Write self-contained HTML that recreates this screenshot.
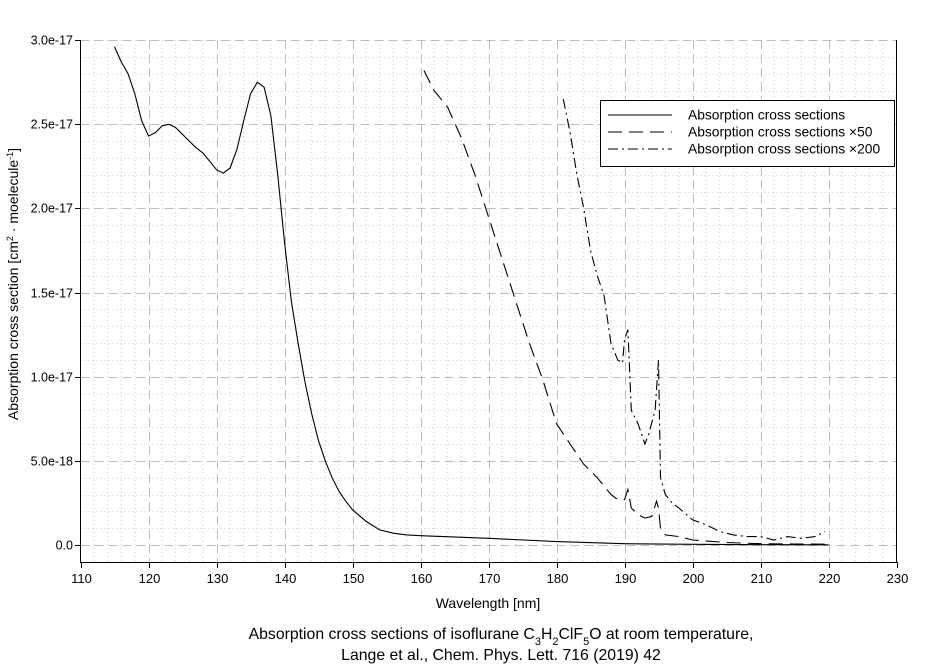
<!DOCTYPE html>
<html><head><meta charset="utf-8"><style>
body{margin:0;background:#fff;}
svg{display:block;font-family:"Liberation Sans",Arial,sans-serif;}
</style></head><body>
<svg id="chart" width="936" height="668" viewBox="0 0 936 668">
<g id="grid"></g>
<g id="axes"></g>
<g id="series"></g>
<g>
<rect x="600.5" y="100.5" width="294" height="66" fill="#fff" stroke="#000"/>
<line x1="608" y1="115" x2="672" y2="115" stroke="#000"/>
<line x1="608" y1="132" x2="672" y2="132" stroke="#000" stroke-dasharray="14,7"/>
<line x1="608" y1="149" x2="672" y2="149" stroke="#000" stroke-dasharray="10,4,2,4"/>
<text x="688" y="119.5" font-size="13.8">Absorption cross sections</text>
<text x="688" y="136.5" font-size="13.8">Absorption cross sections ×50</text>
<text x="688" y="153.5" font-size="13.8">Absorption cross sections ×200</text>
</g>
<text x="488" y="608" font-size="14" text-anchor="middle">Wavelength  [nm]</text>
<text transform="translate(18,284) rotate(-90)" font-size="14" text-anchor="middle">Absorption cross section [cm<tspan baseline-shift="super" font-size="9">2</tspan> · moelecule<tspan baseline-shift="super" font-size="9">-1</tspan>]</text>
<text x="501" y="639" font-size="15.8" text-anchor="middle">Absorption cross sections of isoflurane C<tspan baseline-shift="sub" font-size="11">3</tspan>H<tspan baseline-shift="sub" font-size="11">2</tspan>ClF<tspan baseline-shift="sub" font-size="11">5</tspan>O at room temperature,</text>
<text x="501" y="660" font-size="15.8" text-anchor="middle">Lange et al., Chem. Phys. Lett. 716 (2019) 42</text>
</svg>
<script>
const xTicks=[110,120,130,140,150,160,170,180,190,200,210,220,230];
const yTicks=[0,0.5,1.0,1.5,2.0,2.5,3.0];
const yTickLabels=["0.0","5.0e-18","1.0e-17","1.5e-17","2.0e-17","2.5e-17","3.0e-17"];
const mainX=[115,116,117,118,119,120,121,122,123,124,125,126,127,128,129,130,131,132,133,134,135,136,137,138,139,140,141,142,143,144,145,146,147,148,149,150,152,154,156,158,160,170,180,190,200,210,220];
const mainY=[2.96,2.87,2.8,2.68,2.52,2.43,2.45,2.49,2.5,2.48,2.44,2.4,2.36,2.33,2.28,2.23,2.21,2.24,2.35,2.52,2.68,2.75,2.72,2.55,2.2,1.8,1.45,1.2,0.97,0.78,0.62,0.5,0.4,0.32,0.26,0.21,0.14,0.09,0.07,0.06,0.055,0.04,0.02,0.008,0.004,0.002,0.001];
const x50X=[160.5,162,164,166,168,170,172,174,176,178,180,182,184,186,188,189,190,190.5,191,192,193,194,194.7,195,195.3,196,198,200,205,210,215,220];
const x50Y=[2.82,2.7,2.6,2.42,2.2,1.95,1.7,1.45,1.2,0.98,0.72,0.6,0.48,0.4,0.3,0.27,0.27,0.33,0.22,0.18,0.16,0.17,0.26,0.22,0.1,0.06,0.05,0.03,0.015,0.008,0.006,0.005];
const x200X=[181,182,183,184,185,186,187,188,189,189.7,190,190.5,191,192,193,193.5,194.5,195,195.3,196,197,198,200,202,204,206,208,210,212,214,216,218,219.5];
const x200Y=[2.65,2.45,2.2,2.0,1.75,1.6,1.48,1.2,1.1,1.08,1.22,1.28,0.8,0.72,0.6,0.65,0.8,1.1,0.4,0.3,0.25,0.22,0.15,0.12,0.08,0.06,0.05,0.05,0.03,0.05,0.04,0.05,0.08];
const NS='http://www.w3.org/2000/svg';
const X=v=>80.5+(v-110)*6.8;
const Y=v=>545-v*168.3;
function mk(tag,attrs,parent){const e=document.createElementNS(NS,tag);for(const k in attrs)e.setAttribute(k,attrs[k]);parent.appendChild(e);return e;}
const grid=document.getElementById('grid'),axes=document.getElementById('axes'),ser=document.getElementById('series');
for(let v=112;v<230;v+=2){if(v%10===0)continue;const l=mk('line',{x1:X(v),x2:X(v),y1:40,y2:562,stroke:'#c8c8c8','stroke-dasharray':'1,3'},grid);

}
for(let v=-0.1;v<3.0;v+=0.1){if(Math.abs(v*10%5)<1e-6||Math.abs(v*10%5-5)<1e-6)continue;const y=Math.round(Y(v))+0.5;if(y>562)continue;const l=mk('line',{x1:80.5,x2:896,y1:y,y2:y,stroke:'#c8c8c8','stroke-dasharray':'1,3'},grid);

}
xTicks.forEach(t=>{const x=Math.round(X(t))+0.5;
if(t>110&&t<230){const g=mk('line',{x1:x,x2:x,y1:40,y2:562,stroke:'#bdbdbd','stroke-dasharray':'9,5'},grid);

}
const tk=mk('line',{x1:x,x2:x,y1:562,y2:568,stroke:'#000'},axes);


const tx=mk('text',{x:x,y:583,'font-size':13,'text-anchor':'middle'},axes);tx.textContent=t;

});
yTicks.forEach((t,i)=>{const y=Math.round(Y(t))+0.5;
const g=mk('line',{x1:80.5,x2:896,y1:y,y2:y,stroke:'#bdbdbd','stroke-dasharray':'9,5'},grid);


const tk=mk('line',{x1:75,x2:80.5,y1:y,y2:y,stroke:'#000'},axes);


const tx=mk('text',{x:73,y:y+4,'font-size':12.5,'text-anchor':'end'},axes);tx.textContent=yTickLabels[i];

});
const a1=mk('path',{d:'M80.5,40V562.5H896.5V40',fill:'none',stroke:'#000'},axes);


function line(xs,ys,dash,name){const d=xs.map((x,i)=>(i?'L':'M')+X(x).toFixed(1)+','+Y(ys[i]).toFixed(1)).join('');
const p=mk('path',{d:d,fill:'none',stroke:'#000','stroke-width':1.1},ser);if(dash)p.setAttribute('stroke-dasharray',dash);

}
line(mainX,mainY,null,'series-main');
line(x50X,x50Y,'14,7','series-x50');
line(x200X,x200Y,'10,4,2,4','series-x200');
</script>
</body></html>
